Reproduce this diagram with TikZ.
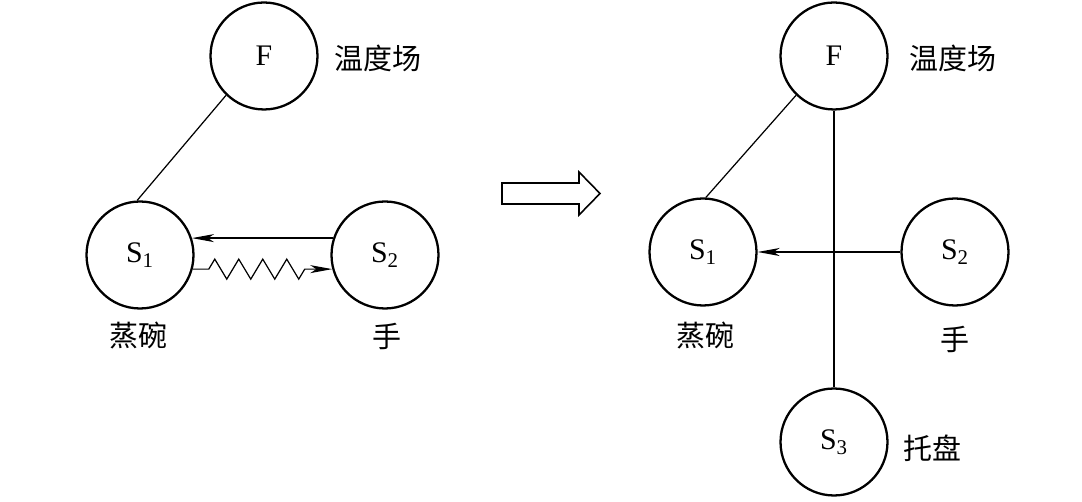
\documentclass[tikz,border=0pt]{standalone}
\usepackage{fontspec}
\setmainfont{Liberation Serif}
\newfontfamily\cjk{Noto Sans CJK SC}
\usepackage{tikz}
\usetikzlibrary{arrows.meta,decorations.pathmorphing}
\tikzset{
  px/.style={x=0.02cm, y=-0.02cm},
  s sys/.style={draw, circle, line width=1.3pt, minimum size=2.14cm, inner sep=0pt, font=\fontsize{17}{20}\selectfont},
  s name/.style={font=\cjk\fontsize{16.5}{19}\selectfont, inner sep=0pt},
  s link/.style={line width=0.7pt},
  s arr/.style={s link, -{Stealth[length=4.4mm, width=1.6mm, inset=1.2mm]}},
  s wave/.style={s arr, decorate, decoration={zigzag, segment length=0.48cm, amplitude=0.2cm, pre length=0.32cm, post length=0.48cm}},
  s big/.style={line width=0.9pt, line join=miter},
}

\begin{document}
\begin{tikzpicture}[px]
\useasboundingbox (0,0) rectangle (1082,502);
% before
\node[s sys] (F) at (264,56) {F};
\node[s sys] (S1) at (140,255) {S\textsubscript{1}};
\node[s sys] (S2) at (385,255) {S\textsubscript{2}};
\node[s name] (fname) at (378,58) {温度场};
\node[s name] (s1name) at (138,336) {蒸碗};
\node[s name] (s2name) at (387,336) {手};
\draw[s link] (F.226) -- (S1.93);
\draw[s arr] (S2.162) -- (S1.18);
\draw[s wave] (S1.-15) -- (S2.195);
% big arrow
\draw[s big] (502,183) -- (579,183) -- (579,172) -- (600,193.5) -- (579,215) -- (579,204) -- (502,204) -- cycle;
% after
\node[s sys] (F') at (834,56) {F};
\node[s sys] (S1') at (703,252) {S\textsubscript{1}};
\node[s sys] (S2') at (955,252) {S\textsubscript{2}};
\node[s sys] (S3') at (834,442) {S\textsubscript{3}};
\node[s name] (fname') at (953,58) {温度场};
\node[s name] (s1name') at (705,336) {蒸碗};
\node[s name] (s2name') at (955,339) {手};
\node[s name] (s3name') at (932,448) {托盘};
\draw[s link] (F'.226) -- (S1'.87);
\draw[s link, line width=0.9pt] (F'.south) -- (S3'.north);
\draw[s arr, line width=0.9pt] (S2'.west) -- (S1'.east);
\end{tikzpicture}
\end{document}
